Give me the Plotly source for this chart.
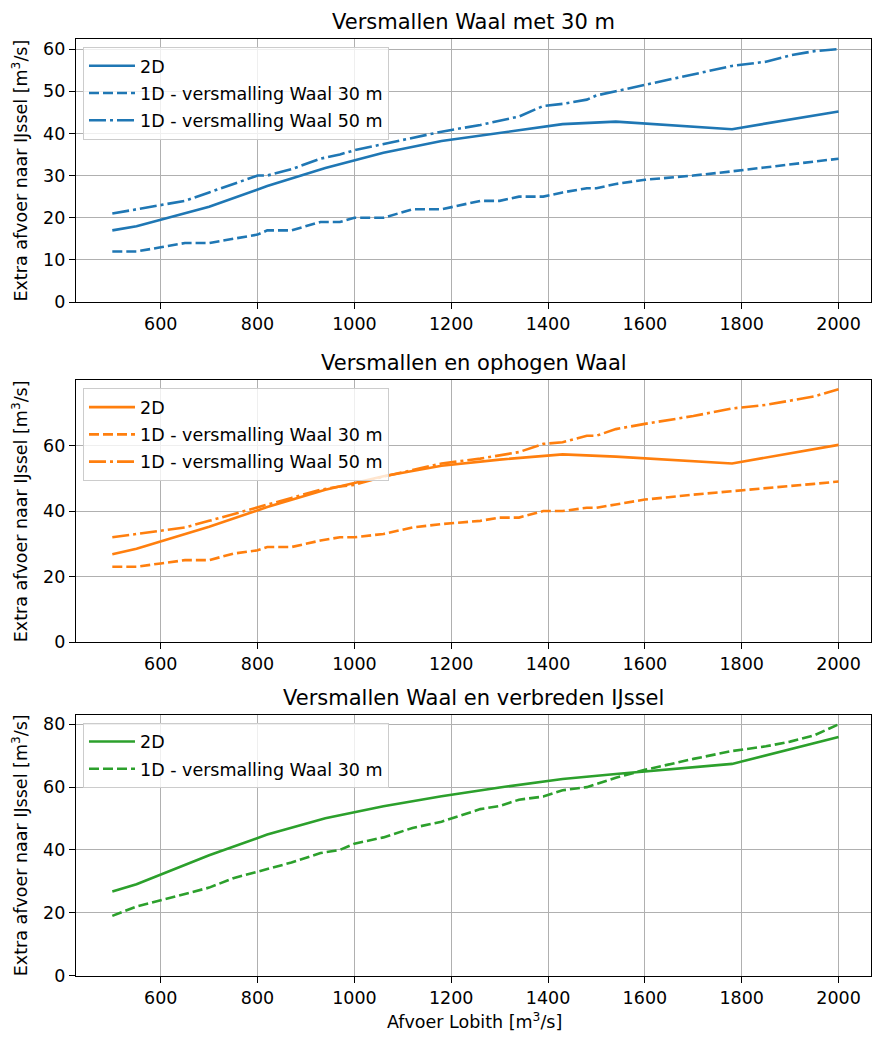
import plotly.graph_objects as go

# Discharge at Lobith [m3/s] for the 2D runs and the 1D runs
Q_2D = [500, 550, 700, 820, 940, 1060, 1180, 1300, 1430, 1540, 1780, 2000]
Q_1D = [500, 550, 600, 650, 700, 750, 800, 820, 870, 930, 970, 1000, 1060, 1120, 1180,
        1260, 1300, 1340, 1390, 1430, 1480, 1500, 1540, 1600, 1700, 1780, 1850, 1900, 1950, 2000]

# Scenario 1: Versmallen Waal met 30 m
s1_2d = [17, 18, 22.6, 27.5, 31.8, 35.4, 38.2, 40.2, 42.2, 42.8, 41, 45.2]
s1_1d_30 = [12, 12, 13, 14, 14, 15, 16, 17, 17, 19, 19, 20, 20, 22, 22,
            24, 24, 25, 25, 26, 27, 27, 28, 29, 30, 31, 32, 32.6, 33.3, 34]
s1_1d_50 = [21, 22, 23, 24, 26, 28, 30, 30, 31.5, 34, 35, 36, 37.5, 39, 40.4,
            42, 43, 44, 46.5, 47, 48, 49, 50, 51.5, 54, 56, 57, 58.5, 59.5, 60]

# Scenario 2: Versmallen en ophogen Waal
s2_2d = [26.8, 28.5, 35.2, 41.2, 46.5, 50.6, 53.8, 55.7, 57.3, 56.6, 54.5, 60.2]
s2_1d_30 = [23, 23, 24, 25, 25, 27, 28, 29, 29, 31, 32, 32, 33, 35, 36,
            37, 38, 38, 40, 40, 41, 41, 42, 43.5, 45, 46, 47, 47.6, 48.3, 49]
s2_1d_50 = [32, 33, 34, 35, 37, 39, 41, 42, 44, 46.5, 47.5, 48, 50.5, 52.5, 54.5,
            56, 57, 58, 60.5, 61, 63, 63, 65, 66.6, 69, 71.3, 72.4, 73.6, 75, 77.2]

# Scenario 3: Versmallen Waal en verbreden IJssel
s3_2d = [26.8, 29.1, 38.3, 44.9, 50.1, 53.9, 57.1, 59.9, 62.6, 64.2, 67.4, 76]
s3_1d_30 = [19, 22, 24, 26, 28, 31, 33, 34, 36, 39, 40, 42, 44, 47, 49,
            53, 54, 56, 57, 59, 60, 61, 63, 65.5, 69, 71.5, 73, 74.5, 76.5, 80]

TITLES = ["Versmallen Waal met 30 m", "Versmallen en ophogen Waal",
          "Versmallen Waal en verbreden IJssel"]
NAMES = ["2D", "1D - versmalling Waal 30 m", "1D - versmalling Waal 50 m"]
X_TICKS = [600, 800, 1000, 1200, 1400, 1600, 1800, 2000]
Y_TICKS = [[0, 10, 20, 30, 40, 50, 60], [0, 20, 40, 60], [0, 20, 40, 60, 80]]
Y_TOPS = [62.4, 79.9, 83.05]
YLABEL = "Extra afvoer naar IJssel [m<sup>3</sup>/s]"
XLABEL = "Afvoer Lobith [m<sup>3</sup>/s]"

COLORS = ["#1f77b4", "#ff7f0e", "#2ca02c"]
DASHES = ["solid", "10px,4px", "17px,4px,3px,4px"]
FONT = "DejaVu Sans"

W, H = 872, 1041
ML = 76
PW = W - ML
# panel extents in pixels from top: (top, bottom)
PANELS = [(39.3, 305.0), (384.0, 648.3), (721.7, 985.0)]

series = [
    [(Q_2D, s1_2d), (Q_1D, s1_1d_30), (Q_1D, s1_1d_50)],
    [(Q_2D, s2_2d), (Q_1D, s2_1d_30), (Q_1D, s2_1d_50)],
    [(Q_2D, s3_2d), (Q_1D, s3_1d_30)],
]

fig = go.Figure()
layout = dict(
    width=W, height=H,
    margin=dict(l=ML, r=0, t=0, b=0),
    paper_bgcolor="white", plot_bgcolor="white",
    font=dict(family=FONT, size=17.5, color="black"),
    showlegend=True,
)

annotations = []
for i, (top, bot) in enumerate(PANELS):
    k = "" if i == 0 else str(i + 1)
    dom = [1 - bot / H, 1 - top / H]
    axis_common = dict(
        showline=True, mirror=True, linecolor="black", linewidth=1.3,
        ticks="outside", ticklen=6, tickwidth=1.3, tickcolor="black",
        showgrid=True, gridcolor="#b0b0b0", gridwidth=1.3, zeroline=False,
        tickfont=dict(family=FONT, size=17.5, color="black"),
    )
    layout["xaxis" + k] = dict(axis_common, domain=[0, 1], range=[425, 2067],
                               tickvals=X_TICKS, anchor="y" + k)
    layout["yaxis" + k] = dict(axis_common, domain=dom, range=[0, Y_TOPS[i]],
                               tickvals=Y_TICKS[i], anchor="x" + k)
    leg = "legend" + k
    layout[leg] = dict(
        x=(83 - ML) / PW, y=1 - (top + 8) / H, xanchor="left", yanchor="top",
        bgcolor="rgba(255,255,255,0.8)", bordercolor="#cccccc", borderwidth=1,
        font=dict(family=FONT, size=17.5, color="black"),
        tracegroupgap=1.5, itemwidth=46,
    )
    for j, (xs, ys) in enumerate(series[i]):
        fig.add_trace(go.Scatter(
            x=xs, y=ys, mode="lines", name=NAMES[j],
            line=dict(color=COLORS[i], width=2.6, dash=DASHES[j]),
            xaxis="x" + k, yaxis="y" + k, legend=leg,
            legendgroup=f"p{i}s{j}",
        ))
    annotations.append(dict(
        text=TITLES[i], xref="paper", yref="paper", x=0.5, y=dom[1],
        xanchor="center", yanchor="bottom", yshift=3, showarrow=False,
        font=dict(family=FONT, size=21, color="black"),
    ))
    annotations.append(dict(
        text=YLABEL, xref="paper", yref="paper", x=(20 - ML) / PW,
        y=(dom[0] + dom[1]) / 2, xanchor="center", yanchor="middle",
        textangle=-90, showarrow=False,
        font=dict(family=FONT, size=17.5, color="black"),
    ))

annotations.append(dict(
    text=XLABEL, xref="paper", yref="paper", x=(475.5 - ML) / PW, y=1 - 1031 / H,
    xanchor="center", yanchor="middle", showarrow=False,
    font=dict(family=FONT, size=17.5, color="black"),
))
layout["annotations"] = annotations
fig.update_layout(**layout)

fig.write_html("out.html")
